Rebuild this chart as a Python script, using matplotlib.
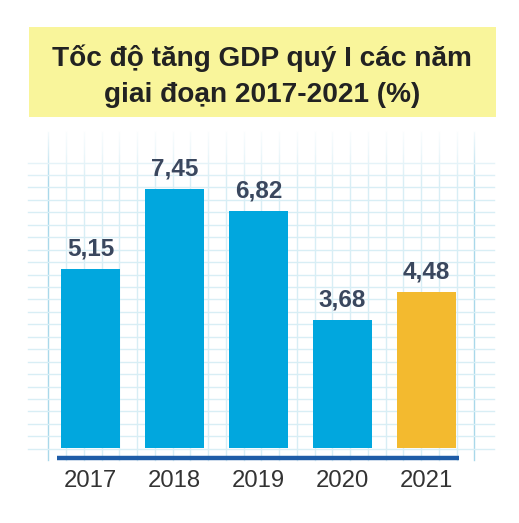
import numpy as np
import matplotlib.pyplot as plt
from matplotlib.patches import Rectangle

# data
years = ["2017", "2018", "2019", "2020", "2021"]
growth = [5.15, 7.45, 6.82, 3.68, 4.48]
value_labels = ["5,15", "7,45", "6,82", "3,68", "4,48"]
highlight_year = "2021"

W, H = 519, 523
DPI = 100
FONT = ["Liberation Sans", "DejaVu Sans"]

blue = "#01A7DE"
gold = "#F3BA2F"
grid_c = "#D8EEF5"
grid_dark = "#A9D8EA"

fig = plt.figure(figsize=(W / DPI, H / DPI), dpi=DPI)
fig.patch.set_facecolor("white")

# background layer in pixel coords (grid paper, title box, baseline)
bg = fig.add_axes([0, 0, 1, 1])
bg.set_xlim(0, W)
bg.set_ylim(H, 0)
bg.axis("off")

vx = 48.3 + 17.75 * np.arange(25)
for i, x in enumerate(vx):
    c = grid_dark if i in (0, 24) else grid_c
    bg.plot([x, x], [132, 460], color=c, lw=1, zorder=1)
for y in np.arange(162.5, 449, 12.45):
    bg.plot([28, 494], [y, y], color=grid_c, lw=1, zorder=1)

# fade the top of the grid paper
fade = np.zeros((100, 2, 4))
fade[..., :3] = 1
fade[..., 3] = np.linspace(1, 0, 100)[:, None]
bg.imshow(fade, extent=[20, 500, 185, 125], aspect="auto", zorder=2,
          interpolation="bilinear")
bg.set_xlim(0, W)
bg.set_ylim(H, 0)

bg.add_patch(Rectangle((29, 27), 467, 90, facecolor="#F9F59B",
                       edgecolor="none", zorder=3))
bg.text(262, 58, "Tốc độ tăng GDP quý I các năm", ha="center", va="center",
        fontsize=20.2, fontweight="bold", color="#222222", family=FONT, zorder=4)
bg.text(262, 95, "giai đoạn 2017-2021 (%)", ha="center", va="center",
        fontsize=20.2, fontweight="bold", color="#222222", family=FONT, zorder=4)

bg.plot([57, 459], [458, 458], color="#1F5CA7", lw=3.2,
        solid_capstyle="butt", zorder=4)

# bars
ax = fig.add_axes([48.5 / W, (H - 448) / H, 420 / W, 296 / H])
ax.patch.set_alpha(0)
colors = [gold if y == highlight_year else blue for y in years]
xs = np.arange(len(years))
ax.bar(xs, growth, width=0.70, color=colors, zorder=3)
ax.set_xlim(-0.5, len(years) - 0.5)
ax.set_ylim(0, 8.5)
for x, v, lab in zip(xs, growth, value_labels):
    ax.annotate(lab, (x, v), xytext=(0, 6), textcoords="offset points",
                ha="center", va="bottom", fontsize=17.5, fontweight="bold",
                color="#3A475E", family=FONT)
ax.set_xticks(xs)
ax.set_xticklabels(years, fontsize=17.2, color="#333333", family=FONT)
ax.tick_params(axis="x", length=0, pad=16)
ax.set_yticks([])
for s in ax.spines.values():
    s.set_visible(False)

fig.savefig("out.png", dpi=DPI, facecolor="white")
